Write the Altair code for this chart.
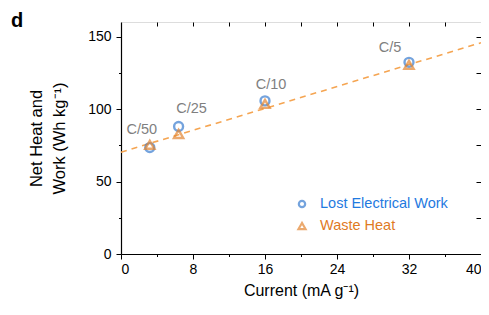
import altair as alt
import pandas as pd

# ---- data ----
currents = [3.2, 6.4, 16, 32]           # mA g^-1
rates = ["C/50", "C/25", "C/10", "C/5"]
lost_work = [73.4, 87.9, 105.6, 132.2]   # Wh kg^-1
waste_heat = [75.3, 82.8, 103.5, 130.4]  # Wh kg^-1
fit_x = [0, 40]
fit_y = [70.2, 145.7]
x_ticks = [0, 4, 8, 12, 16, 20, 24, 28, 32, 36, 40]
x_ticks_top = [4, 8, 12, 16, 20, 24, 28, 32, 36]
y_ticks = [0, 25, 50, 75, 100, 125, 150]
legend_labels = ["Lost Electrical Work", "Waste Heat"]

# label offsets (pixels) for the C-rate annotations
label_dx = [-8, 13, 6, -19]
label_dy = [-18, -18, -16, -14]

FONT = "Liberation Sans"
BLUE = "#3a7dd0"
BLUE_TXT = "#1f7ae0"
ORANGE = "#e38632"
ORANGE_TXT = "#e07a1f"

pts = pd.DataFrame({"x": currents, "lost": lost_work, "heat": waste_heat, "rate": rates})
fit = pd.DataFrame({"x": fit_x, "y": fit_y})

xscale = alt.Scale(domain=[0, 40], nice=False, zero=False)
yscale = alt.Scale(domain=[0, 160], nice=False, zero=False)

x_main = alt.X("x:Q", scale=xscale, title="Current (mA g⁻¹)",
               axis=alt.Axis(values=x_ticks, orient="bottom",
                             labelExpr="datum.value % 8 === 0 ? datum.label : ''",
                             tickSize={"expr": "datum.value % 8 === 0 ? 5 : 2.5"},
                             grid=False, labelFontSize=14, titleFontSize=16,
                             labelPadding=3, titlePadding=6, labelFont=FONT, titleFont=FONT,
                             labelColor="black", titleColor="black", titleFontWeight="normal",
                             domainColor="black", tickColor="black", domainWidth=1.2))
y_main = alt.Y("y:Q", scale=yscale, title=["Net Heat and", "Work (Wh kg⁻¹)"],
               axis=alt.Axis(values=y_ticks, orient="left",
                             labelExpr="datum.value % 50 === 0 ? datum.label : ''",
                             tickSize={"expr": "datum.value % 50 === 0 ? 5 : 2.5"},
                             grid=False, labelFontSize=14, titleFontSize=16.5,
                             labelPadding=5, titlePadding=20, titleLineHeight=23,
                             labelFont=FONT, titleFont=FONT,
                             labelColor="black", titleColor="black", titleFontWeight="normal",
                             domainColor="black", tickColor="black", domainWidth=1.2))

fit_line = alt.Chart(fit).mark_line(color="#f5a552", strokeDash=[6, 5], strokeWidth=1.6).encode(
    x=x_main, y=y_main)

# secondary (top/right) axes with inward ticks
frame = alt.Chart(pts).mark_point(opacity=0).encode(
    x=alt.X("x:Q", scale=xscale, title=None,
            axis=alt.Axis(values=x_ticks_top, orient="top", offset=-4, tickSize=4,
                          labels=False, domain=False, grid=False, tickColor="black")),
    y=alt.Y("lost:Q", scale=yscale, title=None,
            axis=alt.Axis(values=y_ticks, orient="right", offset=-5, tickSize=5,
                          labels=False, domain=False, grid=False, tickColor="black")))

circles = alt.Chart(pts).mark_point(shape="circle", filled=False, color=BLUE,
                                    strokeWidth=2.4, size=80).encode(
    x=alt.X("x:Q", scale=xscale, axis=None),
    y=alt.Y("lost:Q", scale=yscale, axis=None))

triangles = alt.Chart(pts).mark_point(shape="triangle-up", filled=False, color=ORANGE,
                                      strokeWidth=2.4, size=85).encode(
    x=alt.X("x:Q", scale=xscale, axis=None),
    y=alt.Y("heat:Q", scale=yscale, axis=None))

labels = []
for i, r in enumerate(rates):
    labels.append(
        alt.Chart(pts[pts["rate"] == r]).mark_text(
            font=FONT, fontSize=14.5, color="#7f7f7f", dx=label_dx[i], dy=label_dy[i],
            align="center", baseline="middle").encode(
            x=alt.X("x:Q", scale=xscale, axis=None),
            y=alt.Y("lost:Q", scale=yscale, axis=None),
            text="rate:N"))

# manual legend
leg = pd.DataFrame({"label": legend_labels})
leg_c = alt.Chart(leg.iloc[[0]]).mark_point(shape="circle", filled=False, color=BLUE,
                                            strokeWidth=2.2, size=40).encode(
    x=alt.value(181), y=alt.value(182))
leg_t = alt.Chart(leg.iloc[[1]]).mark_point(shape="triangle-up", filled=False, color=ORANGE,
                                            strokeWidth=2.2, size=50).encode(
    x=alt.value(181), y=alt.value(204))
leg_c_txt = alt.Chart(leg.iloc[[0]]).mark_text(font=FONT, fontSize=14.5, color=BLUE_TXT,
                                               align="left", baseline="middle").encode(
    x=alt.value(199), y=alt.value(182), text="label:N")
leg_t_txt = alt.Chart(leg.iloc[[1]]).mark_text(font=FONT, fontSize=14.5, color=ORANGE_TXT,
                                               align="left", baseline="middle").encode(
    x=alt.value(199), y=alt.value(204), text="label:N")

panel = alt.Chart(pd.DataFrame({"t": ["d"]})).mark_text(
    font=FONT, fontSize=20, fontWeight="bold", color="black",
    align="center", baseline="alphabetic").encode(
    x=alt.value(-104), y=alt.value(5), text="t:N")

chart = alt.layer(
    fit_line, frame, circles, triangles, *labels,
    leg_c, leg_t, leg_c_txt, leg_t_txt, panel
).resolve_axis(x="independent", y="independent").properties(
    width=360, height=232,
    autosize=alt.AutoSizeParams(type="none"),
    padding={"left": 113, "top": 14, "right": 0, "bottom": 50},
).configure_view(stroke="black", strokeWidth=1.2).configure(background="white")

chart.save("out.html", embed_options={"renderer": "svg", "actions": False})
